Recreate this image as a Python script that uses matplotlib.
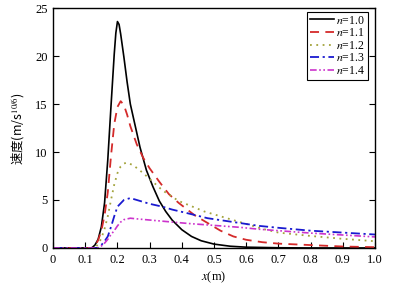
import matplotlib
matplotlib.use("Agg")
import matplotlib.pyplot as plt

plt.rcParams["font.family"] = ["Liberation Serif", "Noto Sans CJK SC"]
plt.rcParams["mathtext.fontset"] = "stix"

# values
x_10 = [0.0, 0.12, 0.13, 0.14, 0.15, 0.16, 0.17, 0.18, 0.19, 0.195, 0.20, 0.205, 0.21,
        0.22, 0.23, 0.24, 0.26, 0.27, 0.29, 0.31, 0.33, 0.35, 0.37, 0.40, 0.43, 0.46,
        0.50, 0.55, 0.60, 0.70, 0.80, 1.0]
v_10 = [0.0, 0.0, 0.3, 0.9, 2.2, 4.7, 9.2, 14.8, 20.2, 22.4, 23.6, 23.3, 22.3,
        19.9, 17.3, 15.0, 12.0, 10.5, 8.1, 6.4, 4.9, 3.8, 2.9, 1.9, 1.2, 0.75,
        0.4, 0.18, 0.08, 0.02, 0.0, 0.0]

x_11 = [0.0, 0.12, 0.13, 0.14, 0.15, 0.16, 0.17, 0.18, 0.19, 0.20, 0.21, 0.22, 0.23,
        0.24, 0.26, 0.28, 0.30, 0.33, 0.36, 0.39, 0.44, 0.48, 0.52, 0.56, 0.60,
        0.65, 0.70, 0.80, 0.90, 1.0]
v_11 = [0.0, 0.0, 0.2, 0.8, 1.8, 3.4, 5.8, 9.6, 12.9, 14.7, 15.3, 14.9, 13.9,
        12.7, 10.8, 9.4, 8.3, 6.9, 5.6, 4.7, 3.4, 2.6, 1.8, 1.2, 0.85,
        0.6, 0.45, 0.3, 0.15, 0.08]

x_12 = [0.0, 0.13, 0.14, 0.15, 0.16, 0.17, 0.18, 0.19, 0.20, 0.21, 0.22, 0.23, 0.25,
        0.28, 0.31, 0.34, 0.39, 0.47, 0.55, 0.60, 0.65, 0.70, 0.80, 0.90, 1.0]
v_12 = [0.0, 0.0, 0.4, 1.0, 2.0, 3.3, 5.0, 6.6, 7.8, 8.5, 8.8, 8.9, 8.6,
        7.8, 6.9, 6.0, 4.9, 3.8, 3.0, 2.5, 2.0, 1.6, 1.25, 0.95, 0.7]

x_13 = [0.0, 0.14, 0.15, 0.16, 0.17, 0.18, 0.19, 0.20, 0.22, 0.24, 0.27, 0.30,
        0.34, 0.37, 0.42, 0.48, 0.58, 0.64, 0.70, 0.80, 0.90, 1.0]
v_13 = [0.0, 0.0, 0.3, 0.7, 1.2, 2.2, 3.3, 4.3, 5.0, 5.2, 4.9, 4.6,
        4.3, 4.0, 3.6, 3.1, 2.6, 2.3, 2.1, 1.8, 1.6, 1.4]

x_14 = [0.0, 0.14, 0.15, 0.16, 0.17, 0.18, 0.19, 0.20, 0.21, 0.22, 0.24, 0.27,
        0.32, 0.37, 0.42, 0.48, 0.58, 0.64, 0.70, 0.80, 0.90, 1.0]
v_14 = [0.0, 0.0, 0.2, 0.5, 0.9, 1.4, 1.8, 2.3, 2.7, 2.95, 3.1, 3.0,
        2.85, 2.7, 2.55, 2.4, 2.15, 1.95, 1.8, 1.55, 1.35, 1.15]

labels = ["$n$=1.0", "$n$=1.1", "$n$=1.2", "$n$=1.3", "$n$=1.4"]
x_ticks = [0, 0.1, 0.2, 0.3, 0.4, 0.5, 0.6, 0.7, 0.8, 0.9, 1.0]
x_tick_labels = ["0", "0.1", "0.2", "0.3", "0.4", "0.5", "0.6", "0.7", "0.8", "0.9", "1.0"]
y_ticks = [0, 5, 10, 15, 20, 25]

fig = plt.figure(figsize=(4.05, 2.90), dpi=100)
ax = fig.add_axes([0.131, 0.145, 0.795, 0.827])

ax.plot(x_10, v_10, color="black", lw=1.2, ls="-", label=labels[0])
ax.plot(x_11, v_11, color="#d42a2a", lw=1.3, ls=(0, (5, 3.5)), label=labels[1])
ax.plot(x_12, v_12, color="#a3a33c", lw=1.3, ls=(0, (1, 2.5)), label=labels[2])
ax.plot(x_13, v_13, color="#1a1ad0", lw=1.3, ls=(0, (5, 2, 1.2, 2)), label=labels[3])
ax.plot(x_14, v_14, color="#cc33cc", lw=1.2, ls=(0, (4, 1.5, 1, 1.5, 1, 1.5)), label=labels[4])

ax.set_xlim(0, 1.0)
ax.set_ylim(0, 25)
ax.set_xticks(x_ticks)
ax.set_xticklabels(x_tick_labels)
ax.set_yticks(y_ticks)
ax.tick_params(direction="in", length=4, width=0.8, labelsize=9,
               right=True, top=False, pad=4)
for s in ax.spines.values():
    s.set_linewidth(1.0)

ax.set_xlabel("$x$(m)", fontsize=9, labelpad=3)
ax.set_ylabel("速度(m/s$^{10/6}$)", fontsize=9,
              family=["Noto Sans CJK SC", "DejaVu Sans"], labelpad=6)

leg = ax.legend(loc="upper right", fontsize=8.5, handlelength=2.0, handletextpad=0.2,
                labelspacing=0.05, borderpad=0.25, borderaxespad=0.2, fancybox=False,
                framealpha=1, edgecolor="black", bbox_to_anchor=(0.985, 0.995))
leg.get_frame().set_linewidth(0.8)

fig.savefig("out.png", dpi=100)
